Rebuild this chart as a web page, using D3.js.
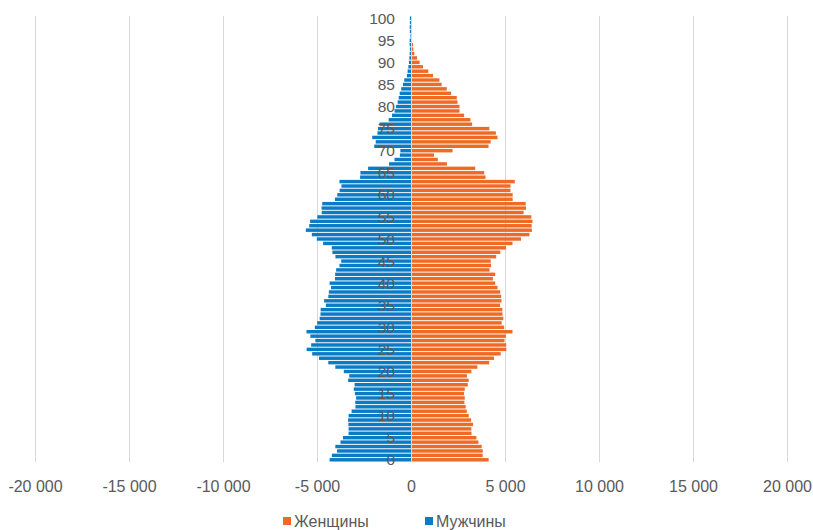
<!DOCTYPE html>
<html>
<head>
<meta charset="utf-8">
<script src="https://cdn.jsdelivr.net/npm/d3@7"></script>
<style>
  html, body { margin: 0; padding: 0; background: #ffffff; }
  svg { display: block; font-family: "Liberation Sans", Arial, sans-serif; }
</style>
</head>
<body>
<svg id="chart" width="813" height="530"></svg>
<script>
// Age groups 0..100
const ages = d3.range(0, 101);

// Men (drawn to the left, negative values), index = age
const men = [
  -4330, -4210, -3930, -4025, -3750, -3620, -3320, -3320, -3330, -3345,
  -3320, -3160, -2955, -2965, -2920, -2985, -3045, -3000, -3345, -3285,
  -3575, -4027, -4400, -4895, -5257, -5550, -5310, -5088, -5354, -5560,
  -5115, -4990, -4858, -4815, -4805, -4530, -4620, -4400, -4370, -4256,
  -4328, -4045, -4035, -3982, -3805, -3712, -4020, -4180, -4215, -4675,
  -5010, -5275, -5595, -5415, -5365, -4982, -4750, -4755, -4722, -4045,
  -3920, -3797, -3700, -3806, -2708, -2690, -2283, -1168, -876, -592,
  -566, -1956, -1876, -2062, -1785, -1760, -1680, -1187, -1010, -875,
  -795, -710, -655, -600, -520, -425, -360, -220, -180, -140,
  -110, -90, -70, -60, -70, -70, -30, -60, -70, -60,
  -60
];

// Women (drawn to the right), index = age
const women = [
  4133, 3815, 3815, 3760, 3585, 3478, 3220, 3212, 3300, 3195,
  3071, 2965, 2910, 2840, 2860, 2823, 2858, 3018, 3071, 2974,
  3212, 3530, 4160, 4416, 4770, 5071, 5062, 4973, 5045, 5398,
  4956, 4823, 4912, 4868, 4860, 4735, 4815, 4796, 4744, 4602,
  4478, 4354, 4478, 4177, 4256, 4240, 4530, 4750, 5050, 5400,
  5850, 6300, 6430, 6420, 6460, 6400, 5990, 6120, 6100, 5407,
  5407, 5292, 5292, 5522, 3965, 3894, 3416, 1911, 1425, 1221,
  2212, 4124, 4239, 4602, 4513, 4168, 3250, 3160, 2825, 2580,
  2580, 2475, 2435, 2133, 1905, 1630, 1512, 1170, 920, 635,
  460, 318, 177, 124, 106, 30, 20, 15, 10, 5,
  5
];

// Value axis ticks and their labels
const xTicks = [-20000, -15000, -10000, -5000, 0, 5000, 10000, 15000, 20000];
const xTickLabels = ["-20 000", "-15 000", "-10 000", "-5 000", "0", "5 000", "10 000", "15 000", "20 000"];

// Age labels shown along the central axis
const ageTicks = d3.range(0, 101, 5);

// Legend entries
const seriesNames = ["Женщины", "Мужчины"];
const seriesColors = ["#EE6A25", "#0A7BC4"];

const svg = d3.select("#chart");

const plotTop = 16, plotBottom = 462;

const x = d3.scaleLinear().domain([-20000, 20000]).range([35, 787]);
const y = d3.scaleBand()
  .domain(ages.slice().reverse())
  .range([plotTop, plotBottom])
  .paddingInner(0.22)
  .paddingOuter(0.11);

// Vertical gridlines
svg.append("g")
  .selectAll("line")
  .data(xTicks)
  .join("line")
  .attr("x1", d => Math.round(x(d)) + 0.5)
  .attr("x2", d => Math.round(x(d)) + 0.5)
  .attr("y1", plotTop)
  .attr("y2", plotBottom)
  .attr("stroke", "#d9d9d9")
  .attr("stroke-width", 1);

// Men bars
svg.append("g")
  .selectAll("rect")
  .data(ages)
  .join("rect")
  .attr("x", a => x(men[a]))
  .attr("y", a => y(a))
  .attr("width", a => x(0) - x(men[a]))
  .attr("height", y.bandwidth())
  .attr("fill", seriesColors[1]);

// Women bars
svg.append("g")
  .selectAll("rect")
  .data(ages)
  .join("rect")
  .attr("x", x(0))
  .attr("y", a => y(a))
  .attr("width", a => x(women[a]) - x(0))
  .attr("height", y.bandwidth())
  .attr("fill", seriesColors[0]);

// Central category axis line
svg.append("line")
  .attr("x1", Math.round(x(0)) + 0.5)
  .attr("x2", Math.round(x(0)) + 0.5)
  .attr("y1", plotTop)
  .attr("y2", plotBottom)
  .attr("stroke", "#d9d9d9")
  .attr("stroke-width", 1);

// Age labels next to the central axis
svg.append("g")
  .selectAll("text")
  .data(ageTicks)
  .join("text")
  .attr("x", x(0) - 16)
  .attr("y", a => y(a) + y.bandwidth() / 2)
  .attr("dy", "0.36em")
  .attr("text-anchor", "end")
  .attr("font-size", 15.5)
  .attr("fill", "#595959")
  .text(a => a);

// Value axis labels
const xAxis = d3.axisBottom(x)
  .tickValues(xTicks)
  .tickFormat((d, i) => xTickLabels[i])
  .tickSize(0)
  .tickPadding(0);

const gx = svg.append("g")
  .attr("transform", `translate(0, ${plotBottom + 19})`)
  .call(xAxis);
gx.select(".domain").remove();
gx.selectAll("text")
  .attr("font-size", 16)
  .attr("font-family", "Liberation Sans, Arial, sans-serif")
  .attr("fill", "#595959");

// Legend
const legendItems = [
  { name: seriesNames[0], color: seriesColors[0], x: 283 },
  { name: seriesNames[1], color: seriesColors[1], x: 425 }
];
const legend = svg.append("g");
legend.selectAll("rect")
  .data(legendItems)
  .join("rect")
  .attr("x", d => d.x)
  .attr("y", 517)
  .attr("width", 8)
  .attr("height", 8)
  .attr("fill", d => d.color);
legend.selectAll("text")
  .data(legendItems)
  .join("text")
  .attr("x", d => d.x + 11)
  .attr("y", 521)
  .attr("dy", "0.36em")
  .attr("font-size", 16)
  .attr("fill", "#595959")
  .text(d => d.name);
</script>
</body>
</html>
